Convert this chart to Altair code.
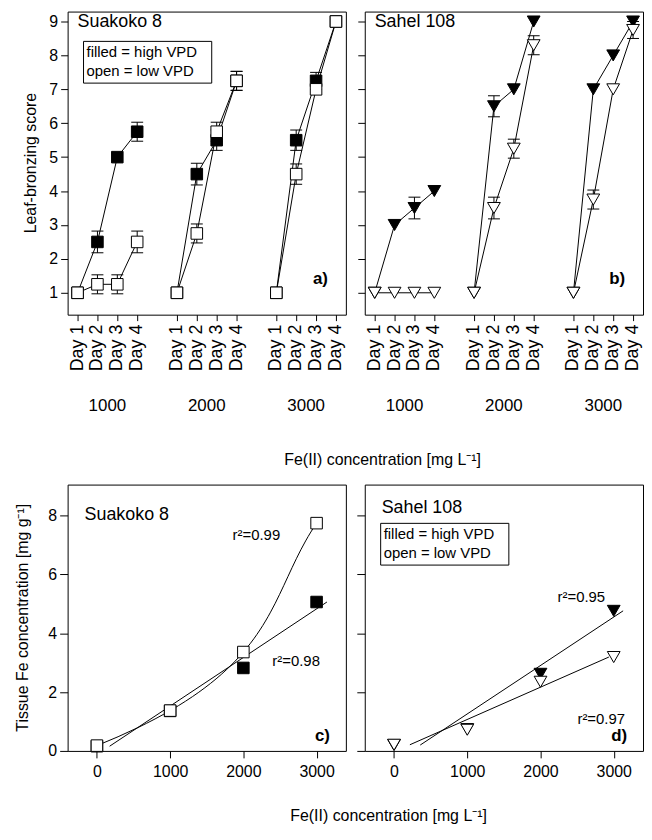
import altair as alt
import pandas as pd

FONT = "Liberation Sans"

# ---------------- data: leaf-bronzing score (panels a, b) ----------------
groups = ["1000", "2000", "3000"]
days = ["Day 1", "Day 2", "Day 3", "Day 4"]

suak_high = [1.0, 2.5, 5.0, 5.75, 1.0, 4.5, 5.5, 7.25, 1.0, 5.5, 7.25, 9.0]
suak_high_err = [0, 0.32, 0, 0.28, 0, 0.32, 0.3, 0.28, 0, 0.3, 0.25, 0]
suak_low = [1.0, 1.25, 1.25, 2.5, 1.0, 2.75, 5.75, 7.25, 1.0, 4.5, 7.0, 9.0]
suak_low_err = [0, 0.28, 0.28, 0.32, 0, 0.28, 0.28, 0.28, 0, 0.3, 0, 0]

sahel_high = [1.0, 3.0, 3.5, 4.0, 1.0, 6.5, 7.0, 9.0, 1.0, 7.0, 8.0, 9.0]
sahel_high_err = [0, 0, 0.32, 0, 0, 0.31, 0, 0, 0, 0, 0, 0]
sahel_low = [1.0, 1.0, 1.0, 1.0, 1.0, 3.5, 5.25, 8.3, 1.0, 3.75, 7.0, 8.75]
sahel_low_err = [0, 0, 0, 0, 0, 0.32, 0.28, 0.28, 0, 0.28, 0, 0.25]

# ---------------- data: tissue Fe concentration (panels c, d) ----------------
conc = [0, 1000, 2000, 3000]
suak_tissue_high = [0.16, 1.36, 2.82, 5.06]
suak_tissue_low = [0.18, 1.37, 3.36, 7.74]
sahel_tissue_high = [0.20, 0.74, 2.62, 4.76]
sahel_tissue_low = [0.21, 0.72, 2.35, 3.19]

y_ticks_top = [1, 2, 3, 4, 5, 6, 7, 8, 9]
y_ticks_bottom = [0, 2, 4, 6, 8]

GAP = len(days) + 1
tick_pos = [gi * GAP + di for gi in range(len(groups)) for di in range(len(days))]
tick_text = [d for _ in groups for d in days]
group_centers = [gi * GAP + (len(days) - 1) / 2 for gi in range(len(groups))]

TW, TH = 280, 305
BW, BH = 280, 268

XTITLE = "Fe(II) concentration [mg L\u207b\u00b9]"


def one_row():
    return pd.DataFrame({"k": [0]})


def label(text, x, y, size=16, align="left", weight="normal", angle=0):
    kw = dict(align=align, baseline="middle", fontSize=size, fontWeight=weight, font=FONT, color="black")
    if angle:
        kw["angle"] = angle
    return alt.Chart(one_row()).mark_text(**kw).encode(
        x=alt.value(x), y=alt.value(y), text=alt.value(text)
    )


def legend_box(x, y):
    box = alt.Chart(one_row()).mark_rect(fill="white", stroke="black", strokeWidth=1).encode(
        x=alt.value(x), x2=alt.value(x + 129), y=alt.value(y), y2=alt.value(y + 42)
    )
    t1 = label("filled = high VPD", x + 3, y + 11, size=15)
    t2 = label("open = low VPD", x + 3, y + 30, size=15)
    return [box, t1, t2]


def score_frame(high, high_err, low, low_err):
    rows = []
    for gi, g in enumerate(groups):
        for di, d in enumerate(days):
            k = gi * len(days) + di
            p = gi * GAP + di
            rows.append({"pos": p, "grp": g, "vpd": "high", "score": high[k], "err": high_err[k]})
            rows.append({"pos": p, "grp": g, "vpd": "low", "score": low[k], "err": low_err[k]})
    df = pd.DataFrame(rows)
    df["lo"] = df["score"] - df["err"]
    df["hi"] = df["score"] + df["err"]
    df["series"] = df["vpd"] + "_" + df["grp"]
    return df


def top_panel(df, shape, size, name, letter, first):
    xs = alt.Scale(domain=[-0.5, 13.5], nice=False, zero=False)
    ys = alt.Scale(domain=[0.355, 9.293], nice=False, zero=False)
    xax = alt.Axis(values=tick_pos, labels=False, title=None, grid=False, domain=False, tickSize=6)
    yax = alt.Axis(values=y_ticks_top, labels=first, title=None, grid=False, domain=False,
                   tickSize=7, labelPadding=3, labelFontSize=16, labelOverlap=False)
    X = alt.X("pos:Q", scale=xs, axis=xax)
    Y = alt.Y("score:Q", scale=ys, axis=yax)
    base = alt.Chart(df)
    err = base.transform_filter("datum.err > 0")
    rules = err.mark_rule(color="black", strokeWidth=1).encode(
        x=X, y=alt.Y("lo:Q", scale=ys, axis=yax), y2="hi:Q")
    caps = err.transform_fold(["lo", "hi"], as_=["end", "v"]).mark_tick(
        orient="horizontal", size=12, thickness=1, color="black", opacity=1).encode(
        x=X, y=alt.Y("v:Q", scale=ys, axis=yax))
    lines = base.mark_line(color="black", strokeWidth=1).encode(
        x=X, y=Y, detail="series:N", order="pos:Q")
    hi_pts = base.transform_filter("datum.vpd == 'high'").mark_point(
        shape=shape, size=size, filled=True, fill="black", stroke="black", strokeWidth=1, opacity=1
    ).encode(x=X, y=Y)
    lo_pts = base.transform_filter("datum.vpd == 'low'").mark_point(
        shape=shape, size=size, filled=True, fill="white", stroke="black", strokeWidth=1, opacity=1
    ).encode(x=X, y=Y)
    day_lbl = alt.Chart(pd.DataFrame({"p": tick_pos, "t": tick_text})).mark_text(
        fontSize=18, font=FONT, angle=270, align="right", baseline="middle", color="black").encode(
        x=alt.X("p:Q", scale=xs, axis=xax), y=alt.value(TH + 10), text="t:N")
    gl = alt.Chart(pd.DataFrame({"grp": groups, "c": group_centers})).mark_text(
        fontSize=17, font=FONT, baseline="middle", color="black").encode(
        x=alt.X("c:Q", scale=xs, axis=xax), y=alt.value(TH + 92), text="grp:N")
    layers = [rules, caps, lines, hi_pts, lo_pts, day_lbl, gl,
              label(name, 10, 11, size=18),
              label(letter, TW - 18, TH - 36, size=17, align="right", weight="bold")]
    if first:
        layers += legend_box(16, 30)
        layers.append(label("Leaf-bronzing score", -37, TH / 2, size=16, align="center", angle=270))
        layers.append(label(XTITLE, 317, TH + 146, size=16, align="center"))
    return alt.layer(*layers).properties(width=TW, height=TH)


def bottom_panel(high, low, shape, size, name, name_y, letter, first, low_method, notes, legend):
    df = pd.DataFrame({"conc": conc * 2, "fe": high + low, "vpd": ["high"] * len(conc) + ["low"] * len(conc)})
    xs = alt.Scale(domain=[-400, 3400], nice=False, zero=False)
    ys = alt.Scale(domain=[0, 9.05], nice=False, zero=False)
    xax = alt.Axis(values=conc, format="d", title=None, grid=False, domain=False, tickSize=7,
                   labelPadding=6, labelFontSize=16, labelAngle=0, labelOverlap=False)
    yax = alt.Axis(values=y_ticks_bottom, labels=first, title=None, grid=False, domain=False,
                   tickSize=8, labelPadding=3, labelFontSize=16, labelOverlap=False)
    X = alt.X("conc:Q", scale=xs, axis=xax)
    Y = alt.Y("fe:Q", scale=ys, axis=yax)
    base = alt.Chart(df)
    hi_line = base.transform_filter("datum.vpd == 'high'").transform_regression(
        "fe", "conc", method="linear").mark_line(color="black", strokeWidth=1, clip=True).encode(x=X, y=Y)
    if low_method == "poly":
        lo_reg = base.transform_filter("datum.vpd == 'low'").transform_regression(
            "fe", "conc", method="poly", order=3)
    else:
        lo_reg = base.transform_filter("datum.vpd == 'low'").transform_regression(
            "fe", "conc", method="linear")
    lo_line = lo_reg.mark_line(color="black", strokeWidth=1, clip=True).encode(x=X, y=Y)
    hi_pts = base.transform_filter("datum.vpd == 'high'").mark_point(
        shape=shape, size=size, filled=True, fill="black", stroke="black", strokeWidth=1, opacity=1
    ).encode(x=X, y=Y)
    lo_pts = base.transform_filter("datum.vpd == 'low'").mark_point(
        shape=shape, size=size, filled=True, fill="white", stroke="black", strokeWidth=1, opacity=1
    ).encode(x=X, y=Y)
    layers = [hi_line, lo_line, hi_pts, lo_pts,
              label(name, 17, name_y, size=18),
              label(letter, BW - 16, BH - 15, size=17, align="right", weight="bold")]
    for t, x, y in notes:
        layers.append(label(t, x, y, size=15))
    if legend:
        layers += legend_box(16, 39)
    if first:
        layers.append(label("Tissue Fe concentration [mg g\u207b\u00b9]", -45, BH / 2, size=16,
                            align="center", angle=270))
        layers.append(label(XTITLE, 323, BH + 66, size=16, align="center"))
    return alt.layer(*layers).properties(width=BW, height=BH)


a = top_panel(score_frame(suak_high, suak_high_err, suak_low, suak_low_err), "square", 135,
              "Suakoko 8", "a)", True)
b = top_panel(score_frame(sahel_high, sahel_high_err, sahel_low, sahel_low_err), "triangle-down", 165,
              "Sahel 108", "b)", False)
c = bottom_panel(suak_tissue_high, suak_tissue_low, "square", 135, "Suakoko 8", 31, "c)", True, "poly",
                 [("r\u00b2=0.99", 166, 51), ("r\u00b2=0.98", 206, 178)], False)
d = bottom_panel(sahel_tissue_high, sahel_tissue_low, "triangle-down", 165, "Sahel 108", 24, "d)", False,
                 "linear", [("r\u00b2=0.95", 194, 113), ("r\u00b2=0.97", 214, 236)], True)

chart = alt.concat(a, b, c, d, columns=2, spacing={"row": 171, "column": 19}, bounds="flush").properties(
    padding={"left": 6, "top": 0, "right": 0, "bottom": 4},
    background="white",
).configure_view(stroke="black", strokeWidth=1).configure_axis(
    labelFont=FONT, labelColor="black", tickColor="black", tickWidth=1, labelOverlap=False
)

chart.save("out.html", embed_options={"renderer": "svg", "actions": False})
